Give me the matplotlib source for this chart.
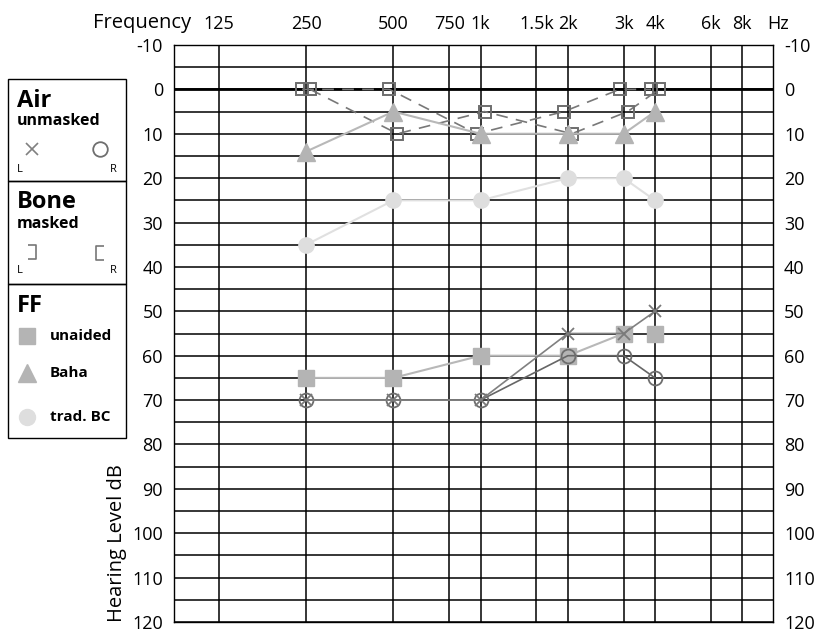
import numpy as np
import matplotlib
matplotlib.use("Agg")
import matplotlib.pyplot as plt
from matplotlib.path import Path
from matplotlib.patches import Rectangle
from matplotlib.transforms import offset_copy

plt.rcParams['font.family'] = ['Open Sans', 'DejaVu Sans']
plt.rcParams['axes.unicode_minus'] = False

# audiogram data (dB HL)
freqs = [250, 500, 1000, 2000, 3000, 4000]
air_left = [70, 70, 70, 55, 55, 50]        # X
air_right = [70, 70, 70, 60, 60, 65]       # O
bone_right = [0, 0, 10, 5, 0, 0]           # square shifted left
bone_left = [0, 10, 5, 10, 5, 0]           # square shifted right
ff_unaided = [65, 65, 60, 60, 55, 55]
ff_baha = [14, 5, 10, 10, 10, 5]
ff_tradbc = [35, 25, 25, 20, 20, 25]

tick_freqs = [125, 250, 500, 750, 1000, 1500, 2000, 3000, 4000, 6000, 8000]
tick_labels = ['125', '250', '500', '750', '1k', '1.5k', '2k', '3k', '4k', '6k', '8k']
db_ticks = list(range(-10, 121, 10))

# audiogram frequency axis: octaves equally spaced, half-octave lines a bit right
anc_f = np.log2([62.5, 125, 250, 500, 750, 1000, 1500, 2000, 3000, 4000, 6000, 8000, 16000])
anc_p = np.array([-1, 0, 1, 2, 2.64, 3, 3.64, 4, 4.64, 5, 5.64, 6, 7])

def fwd(f):
    return np.interp(np.log2(np.clip(f, 1e-3, None)), anc_f, anc_p)

def inv(p):
    return 2 ** np.interp(p, anc_p, anc_f)

W, H = 817, 632
fig = plt.figure(figsize=(W / 100, H / 100), dpi=100)
ax = fig.add_axes([174 / W, 1 - 622 / H, (773 - 174) / W, (622 - 45) / H])
ax.set_xscale('function', functions=(fwd, inv))
ax.set_xlim(inv(-0.516), inv(6.353))
ax.set_ylim(120, -10)

ax.set_xticks(tick_freqs)
ax.set_xticklabels(tick_labels)
ax.xaxis.set_minor_locator(plt.NullLocator())
ax.xaxis.tick_top()
ax.set_yticks(db_ticks)
ax.set_yticks(range(-5, 120, 10), minor=True)
ax.tick_params(axis='x', which='both', length=0, pad=8.5, labelsize=13)
ax.tick_params(axis='y', which='both', length=0, pad=8, labelsize=13,
               left=False, right=False, labelleft=True, labelright=True)
ax.grid(True, which='both', color='black', lw=1.1)
ax.set_axisbelow(True)
ax.axhline(0, color='black', lw=2, zorder=1)
for s in ax.spines.values():
    s.set_color('black')
    s.set_linewidth(1.0)

# free field
ax.plot(freqs, ff_tradbc, color='#e0e0e0', lw=1.5, marker='o', ms=11,
        mfc='#dedede', mec='#dedede', zorder=2)
ax.plot(freqs[:5], ff_unaided[:5], color='#b8b8b8', lw=1.5, zorder=3.5)
ax.plot(freqs, ff_unaided, ls='none', marker='s', ms=11.5,
        mfc='#b4b4b4', mec='#b4b4b4', zorder=3.5)

# masked bone (squares offset left / right of the frequency line)
tr_l = offset_copy(ax.transData, fig=fig, x=-4, y=0, units='dots')
tr_r = offset_copy(ax.transData, fig=fig, x=4, y=0, units='dots')
ax.plot(freqs, bone_right, transform=tr_l, color='#787878', lw=1.2, dashes=(7, 5),
        marker='s', ms=9, mfc='none', mec='#6e6e6e', mew=1.4, zorder=3)
ax.plot(freqs, bone_left, transform=tr_r, color='#787878', lw=1.2, dashes=(7, 5),
        marker='s', ms=9, mfc='none', mec='#6e6e6e', mew=1.4, zorder=3)

ax.plot(freqs, ff_baha, color='#b8b8b8', lw=1.5, marker='^', ms=12.5,
        mfc='#b4b4b4', mec='#b4b4b4', zorder=4)

# air unmasked
ax.plot(freqs, air_right, color='#666666', lw=1.2, marker='o', ms=10,
        mfc='none', mec='#6e6e6e', mew=1.3, zorder=5)
ax.plot(freqs, air_left, color='#808080', lw=1.2, marker='x', ms=9,
        mec='#7a7a7a', mew=1.3, zorder=6)

ax.annotate('Frequency', xy=(0, 1), xycoords='axes fraction', xytext=(12, 8.5),
            textcoords='offset points', ha='right', va='bottom', fontsize=14.5)
ax.annotate('Hz', xy=(1, 1), xycoords='axes fraction', xytext=(4, 8.5),
            textcoords='offset points', ha='center', va='bottom', fontsize=13)
ax.annotate('Hearing Level dB', xy=(0, 0), xycoords='axes fraction', xytext=(-57, 0),
            textcoords='offset pixels', ha='center', va='bottom', rotation=90,
            fontsize=14.5)

# symbol legend on the left
lax = fig.add_axes([8 / W, 1 - 439 / H, 118 / W, 361 / H])
lax.set_xlim(8, 126)
lax.set_ylim(439, 78)
lax.axis('off')
for y0, y1 in [(79, 181), (181, 284), (284, 438)]:
    lax.add_patch(Rectangle((8, y0), 118, y1 - y0, fill=False, ec='black', lw=1.0,
                            clip_on=False))

lax.text(17, 107, 'Air', fontsize=17, fontweight='bold', va='baseline')
lax.text(17, 125, 'unmasked', fontsize=11.5, fontweight='bold', va='baseline')
lax.plot([32], [149], marker='x', ms=8.5, mec='#808080', mew=1.2, ls='none')
lax.plot([100], [149], marker='o', ms=10.5, mfc='none', mec='#6e6e6e', mew=1.3, ls='none')
lax.text(17, 172, 'L', fontsize=8, va='baseline')
lax.text(110, 172, 'R', fontsize=8, va='baseline')

lax.text(17, 208, 'Bone', fontsize=17, fontweight='bold', va='baseline')
lax.text(17, 228, 'masked', fontsize=11.5, fontweight='bold', va='baseline')
br_r = Path([(-0.57, 1), (0.57, 1), (0.57, -1), (-0.57, -1)])
br_l = Path([(0.57, 1), (-0.57, 1), (-0.57, -1), (0.57, -1)])
lax.plot([32], [252], marker=br_r, ms=10.5, mfc='none', mec='#777777', mew=1.2, ls='none')
lax.plot([100.5], [253], marker=br_l, ms=10.5, mfc='none', mec='#777777', mew=1.2, ls='none')
lax.text(17, 273, 'L', fontsize=8, va='baseline')
lax.text(110, 273, 'R', fontsize=8, va='baseline')

lax.text(17, 312, 'FF', fontsize=17, fontweight='bold', va='baseline')
lax.plot([27], [336], marker='s', ms=12, mfc='#b4b4b4', mec='#b4b4b4', ls='none')
lax.text(50, 340, 'unaided', fontsize=11, fontweight='bold', va='baseline')
lax.plot([27], [373], marker='^', ms=13.5, mfc='#b4b4b4', mec='#b4b4b4', ls='none')
lax.text(50, 377, 'Baha', fontsize=11, fontweight='bold', va='baseline')
lax.plot([27], [417], marker='o', ms=11.5, mfc='#dedede', mec='#dedede', ls='none')
lax.text(50, 421, 'trad. BC', fontsize=11, fontweight='bold', va='baseline')

fig.savefig('out.png', dpi=100)
